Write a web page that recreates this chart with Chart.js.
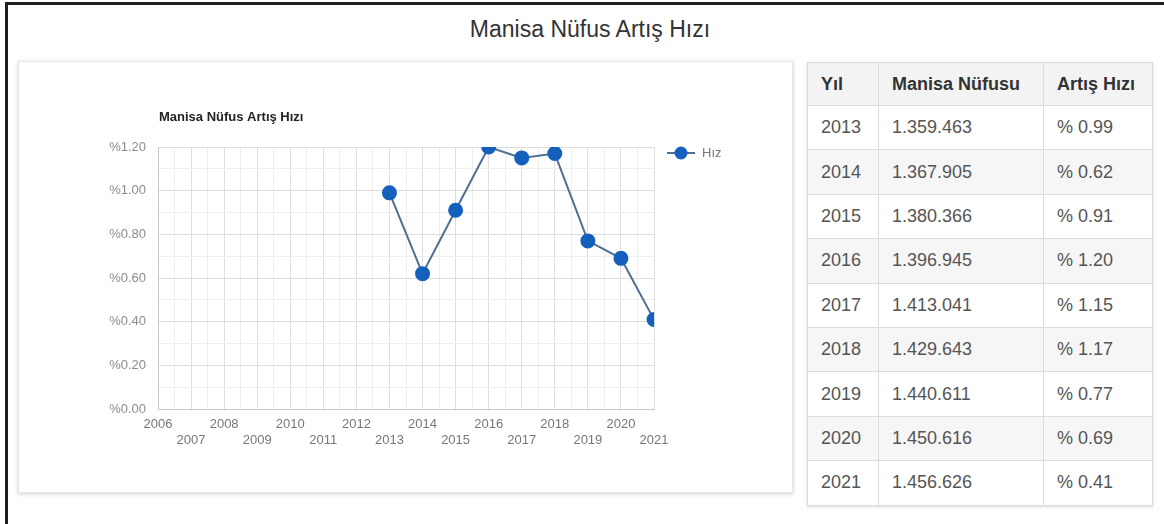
<!DOCTYPE html>
<html lang="tr">
<head>
    <meta charset="UTF-8">
    <title>Manisa Nüfus Artış Hızı</title>
    <script src="https://cdn.jsdelivr.net/npm/chart.js"></script>
    <style>
        body { margin: 0; width: 1164px; height: 524px; background: #fff; font-family: "Liberation Sans", Arial, sans-serif; overflow: hidden; position: relative; }
        .frame { position: absolute; left: 5px; top: 2px; right: -5px; bottom: -5px; border-top: 3px solid #1e1e1e; border-left: 3px solid #1e1e1e; }
        .title { position: absolute; left: 0; top: 16px; width: 1180px; text-align: center; font-size: 23px; color: #333; }
        .card { position: absolute; left: 18px; top: 61px; width: 773px; height: 430px; background: #fff; border: 1px solid #e6e6e6; box-shadow: 0 1px 4px rgba(0,0,0,0.18); }
        .card div { position: relative; width: 773px; height: 430px; }
        table { position: absolute; left: 807px; top: 62px; width: 346px; border-collapse: collapse; font-size: 18px; box-shadow: 0 1px 3px rgba(0,0,0,0.15); }
        th, td { border: 1px solid #dcdcdc; text-align: left; padding: 0 0 0 13px; }
        th { height: 42px; background: #f3f3f3; color: #333; font-weight: bold; }
        td { height: 43.4px; color: #555; }
        tbody tr:nth-child(even) td { background: #f6f6f6; }
    </style>
</head>
<body>
<div class="frame"></div>
<div class="title">Manisa Nüfus Artış Hızı</div>

<div class="card">
    <div><canvas id="chart"></canvas></div>
</div>

<table id="tablo">
    <thead><tr><th style="width:57px">Yıl</th><th style="width:151px">Manisa Nüfusu</th><th>Artış Hızı</th></tr></thead>
    <tbody></tbody>
</table>

<script>
    // veriler
    const years = [2013, 2014, 2015, 2016, 2017, 2018, 2019, 2020, 2021];
    const population = ['1.359.463', '1.367.905', '1.380.366', '1.396.945', '1.413.041', '1.429.643', '1.440.611', '1.450.616', '1.456.626'];
    const rates = [0.99, 0.62, 0.91, 1.20, 1.15, 1.17, 0.77, 0.69, 0.41];
    const xMin = 2006, xMax = 2021;

    // tablo
    const tbody = document.querySelector('#tablo tbody');
    years.forEach((y, i) => {
        const tr = document.createElement('tr');
        tr.innerHTML = `<td>${y}</td><td>${population[i]}</td><td>% ${rates[i].toFixed(2)}</td>`;
        tbody.appendChild(tr);
    });

    // chart başlığı ve legend (çizim alanına göre)
    const extras = {
        id: 'extras',
        afterDraw(chart) {
            const ctx = chart.ctx, a = chart.chartArea;
            ctx.save();
            ctx.font = 'bold 13px "Liberation Sans", Arial, sans-serif';
            ctx.fillStyle = '#222';
            ctx.textBaseline = 'middle';
            ctx.fillText('Manisa Nüfus Artış Hızı', a.left + 1, a.top - 30);

            const lx = a.right + 13, ly = a.top + 6;
            ctx.strokeStyle = '#4f6f93';
            ctx.lineWidth = 2;
            ctx.beginPath();
            ctx.moveTo(lx, ly);
            ctx.lineTo(lx + 28, ly);
            ctx.stroke();
            ctx.fillStyle = '#1560bd';
            ctx.beginPath();
            ctx.arc(lx + 14, ly, 6.5, 0, Math.PI * 2);
            ctx.fill();
            ctx.font = '13px "Liberation Sans", Arial, sans-serif';
            ctx.fillStyle = '#777';
            ctx.fillText('Hız', lx + 35, ly);
            ctx.restore();
        }
    };

    const ctx = document.getElementById('chart').getContext('2d');
    new Chart(ctx, {
        type: 'line',
        data: {
            datasets: [{
                label: 'Hız',
                data: years.map((y, i) => ({ x: y, y: rates[i] })),
                borderColor: '#4f6f93',
                borderWidth: 2,
                pointRadius: 6.5,
                pointBackgroundColor: '#1560bd',
                pointBorderColor: '#1560bd',
                tension: 0
            }]
        },
        options: {
            responsive: true,
            maintainAspectRatio: false,
            animation: false,
            layout: { padding: { left: 89, top: 85, right: 138, bottom: 43 } },
            plugins: {
                legend: { display: false },
                tooltip: { enabled: false }
            },
            scales: {
                x: {
                    type: 'linear',
                    min: xMin,
                    max: xMax,
                    afterFit: s => { s.height = 40; },
                    afterBuildTicks: s => {
                        s.ticks = [];
                        for (let v = xMin; v <= xMax + 0.001; v += 0.5) s.ticks.push({ value: v });
                    },
                    ticks: {
                        autoSkip: false,
                        maxRotation: 0,
                        padding: 8,
                        color: '#777',
                        font: { size: 13, family: '"Liberation Sans", Arial, sans-serif' },
                        callback: v => {
                            if (v % 1 !== 0) return '';
                            return v % 2 === 0 ? String(v) : ['', String(v)];
                        }
                    },
                    grid: {
                        drawTicks: false,
                        color: c => (c.tick && c.tick.value % 1 === 0) ? '#dedede' : '#eeeeee'
                    },
                    border: { color: '#c8c8c8' }
                },
                y: {
                    min: 0,
                    max: 1.2,
                    afterFit: s => { s.width = 50; },
                    ticks: {
                        stepSize: 0.1,
                        autoSkip: false,
                        padding: 12,
                        color: '#8c8c8c',
                        font: { size: 13, family: '"Liberation Sans", Arial, sans-serif' },
                        callback: v => Math.round(v * 10) % 2 === 0 ? '%' + v.toFixed(2) : ''
                    },
                    grid: {
                        drawTicks: false,
                        color: c => (c.tick && Math.round(c.tick.value * 10) % 2 === 0) ? '#dedede' : '#eeeeee'
                    },
                    border: { color: '#c8c8c8' }
                }
            }
        },
        plugins: [extras]
    });
</script>
</body>
</html>
